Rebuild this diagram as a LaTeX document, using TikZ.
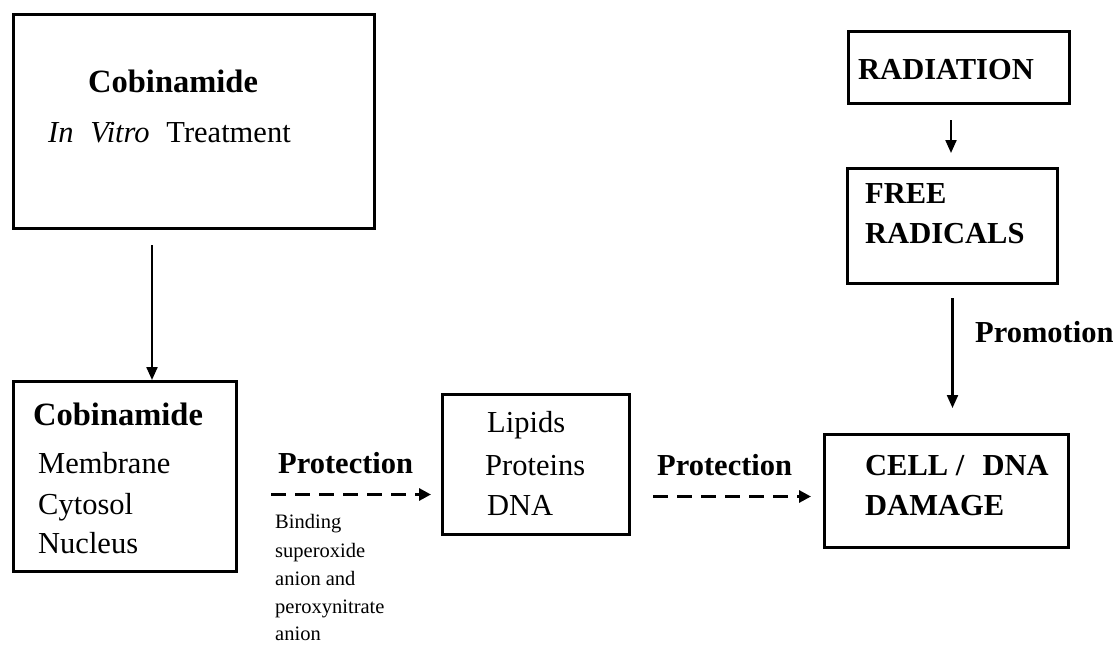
\documentclass[tikz,border=0pt]{standalone}
\usepackage{fontspec}
\setmainfont{Liberation Serif}
\usetikzlibrary{arrows.meta}
\tikzset{
  box/.style={draw, line width=3pt, rectangle, anchor=north west, inner sep=0pt},
  txt/.style={anchor=base west, inner sep=0pt, font=\fontsize{30.5}{36}\selectfont},
  btxt/.style={anchor=base west, inner sep=0pt, font=\fontsize{30.5}{36}\selectfont\bfseries},
  ctxt/.style={anchor=base west, inner sep=0pt, font=\fontsize{32.5}{38}\selectfont\bfseries},
  stxt/.style={anchor=base west, inner sep=0pt, font=\fontsize{20.5}{24}\selectfont},
  arr/.style={line width=2.2pt, -{Triangle[length=13pt,width=11pt]}},
  darr/.style={line width=3pt, dash pattern=on 15pt off 9pt, -{Triangle[length=12pt,width=12pt]}}
}
\begin{document}
\begin{tikzpicture}[x=1pt,y=-1pt]
\useasboundingbox (0,0) rectangle (1117,645);
% boxes
\node[box, minimum width=361pt, minimum height=214pt] (b1) at (12,13) {};
\node[box, minimum width=223pt, minimum height=190pt] (b2) at (12,380) {};
\node[box, minimum width=187pt, minimum height=140pt] (b3) at (441,393) {};
\node[box, minimum width=244pt, minimum height=113pt] (b4) at (823,433) {};
\node[box, minimum width=221pt, minimum height=72pt] (b5) at (847,30) {};
\node[box, minimum width=210pt, minimum height=115pt] (b6) at (846,167) {};
% texts
\node[ctxt] (t1) at (88,92) {Cobinamide};
\node[txt] (t2) at (48,142) {\textit{In}\hspace{0.55em}\textit{Vitro}\hspace{0.55em}Treatment};
\node[ctxt] (t3) at (33,425) {Cobinamide};
\node[txt] (t4) at (38,473) {Membrane};
\node[txt] (t5) at (38,514) {Cytosol};
\node[txt] (t6) at (38,553) {Nucleus};
\node[btxt] (p1) at (278,473) {Protection};
\node[stxt] (s1) at (275,528) {Binding};
\node[stxt] (s2) at (275,557) {superoxide};
\node[stxt] (s3) at (275,585) {anion and};
\node[stxt] (s4) at (275,613) {peroxynitrate};
\node[stxt] (s5) at (275,640) {anion};
\node[txt] (l1) at (487,432) {Lipids};
\node[txt] (l2) at (485,475) {Proteins};
\node[txt] (l3) at (487,515) {DNA};
\node[btxt] (p2) at (657,475) {Protection};
\node[btxt] (c1) at (865,475) {CELL /\hspace{0.35em} DNA};
\node[btxt] (c2) at (865,515) {DAMAGE};
\node[btxt] (r1) at (858,79) {RADIATION};
\node[btxt] (f1) at (865,203) {FREE};
\node[btxt] (f2) at (865,243) {RADICALS};
\node[btxt] (pm) at (975,342) {Promotion};
% connectors
\draw[arr, shorten <=15pt] ([xshift=140pt]b1.south west) -- ([xshift=140pt]b2.north west);
\draw[arr, shorten <=15pt, shorten >=14pt] ([xshift=104pt]b5.south west) -- ([xshift=105pt]b6.north west);
\draw[arr, shorten <=13pt, shorten >=25pt] (b6.south) -- (b6.south |- b4.north);
\draw[darr, shorten <=33pt, shorten >=10pt] ([yshift=-18pt]b2.east) -- ([yshift=-18pt]b2.east -| b3.west);
\draw[darr, shorten <=22pt, shorten >=12pt] ([yshift=-32pt]b3.east) -- ([yshift=-32pt]b3.east -| b4.west);
\end{tikzpicture}
\end{document}
